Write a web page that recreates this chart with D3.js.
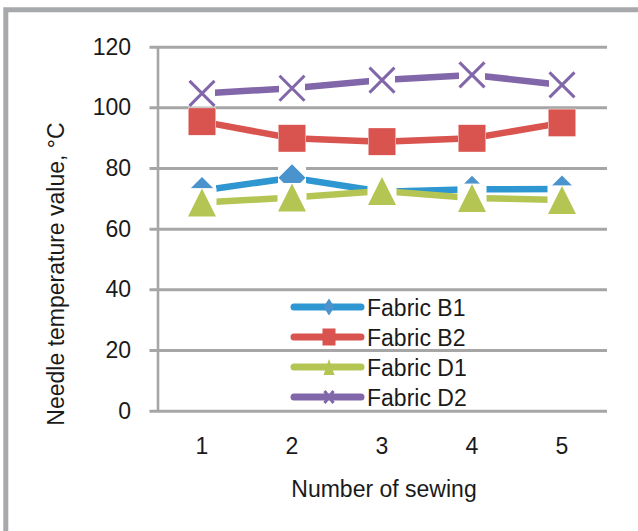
<!DOCTYPE html>
<html>
<head>
<meta charset="utf-8">
<script src="https://cdn.jsdelivr.net/npm/d3@7"></script>
<style>
  html, body { margin: 0; padding: 0; background: #fff; }
  svg { display: block; font-family: "Liberation Sans", Arial, sans-serif; }
</style>
</head>
<body>
<svg id="chart" width="638" height="531"></svg>
<script>
// ---- data ----
const categories = [1, 2, 3, 4, 5];
const yTicks = [0, 20, 40, 60, 80, 100, 120];
const seriesNames = ["Fabric B1", "Fabric B2", "Fabric D1", "Fabric D2"];
const fabricB1 = [72.6, 76.8, 72.2, 73.0, 73.1];
const fabricB2 = [95.3, 89.8, 88.7, 89.8, 94.9];
const fabricD1 = [68.6, 70.3, 72.4, 70.1, 69.5];
const fabricD2 = [104.6, 106.3, 109.0, 110.7, 107.4];
const yTitle = "Needle temperature value, °C";
const xTitle = "Number of sewing";

const series = [
  { name: seriesNames[0], values: fabricB1, color: "#2e96d0", marker: "#4a93cc", shape: "diamond" },
  { name: seriesNames[1], values: fabricB2, color: "#d9534f", marker: "#d9534f", shape: "square" },
  { name: seriesNames[2], values: fabricD1, color: "#b4c553", marker: "#b4c553", shape: "triangle" },
  { name: seriesNames[3], values: fabricD2, color: "#8266aa", marker: "#8266aa", shape: "cross" }
];

const svg = d3.select("#chart");
const grid = "#a6a6a6";

// outer frame
svg.append("path")
  .attr("d", "M5.8,540 L5.8,9.8 L645,9.8")
  .attr("fill", "none").attr("stroke", "#a8a9ac").attr("stroke-width", 5);

const x = d3.scaleBand().domain(categories).range([157, 607]);
const y = d3.scaleLinear().domain([0, 120]).range([410.7, 46.7]);
const cx = d => x(d) + x.bandwidth() / 2;

// gridlines (y-axis ticks) via axis
const yAxis = d3.axisLeft(y).tickValues(yTicks).tickSize(-(607 - 149.5)).tickPadding(18);
const gy = svg.append("g").attr("transform", "translate(149.5,0)").call(yAxis);
gy.select(".domain").remove();
gy.selectAll(".tick line").attr("stroke", grid).attr("stroke-width", 3);
gy.selectAll(".tick text")
  .attr("x", 131 - 149.5).attr("text-anchor", "end")
  .attr("font-size", 23).attr("fill", "#1a1a1a")
  .attr("font-family", "Liberation Sans, Arial, sans-serif");

// vertical axis line
svg.append("line")
  .attr("x1", 158).attr("x2", 158)
  .attr("y1", y(120)).attr("y2", y(0))
  .attr("stroke", grid).attr("stroke-width", 2.6);

// x axis labels
const xAxis = d3.axisBottom(x).tickSize(0).tickPadding(0);
const gx = svg.append("g").attr("transform", "translate(0,454)").call(xAxis);
gx.select(".domain").remove();
gx.selectAll(".tick text")
  .attr("y", 0).attr("dy", 0)
  .attr("font-size", 23).attr("fill", "#1a1a1a")
  .attr("font-family", "Liberation Sans, Arial, sans-serif");

// titles
svg.append("text")
  .attr("transform", "translate(64,274) rotate(-90)")
  .attr("text-anchor", "middle")
  .attr("font-size", 23).attr("fill", "#1a1a1a")
  .text(yTitle);
svg.append("text")
  .attr("x", 384).attr("y", 497)
  .attr("text-anchor", "middle")
  .attr("font-size", 23).attr("fill", "#1a1a1a")
  .text(xTitle);

// marker drawing (big markers sit on a white box, as in the reference)
function drawMarker(g, shape, color, w, h, big) {
  const hw = w / 2, hh = h / 2;
  if (big) {
    g.append("rect").attr("x", -hw - 0.5).attr("y", -hh - 0.5)
      .attr("width", w + 1).attr("height", h + 1).attr("fill", "#fff");
  }
  if (shape === "diamond") {
    g.append("path").attr("d", `M0,${-hh} L${hw},0 L0,${hh} L${-hw},0 Z`).attr("fill", color);
  } else if (shape === "square") {
    g.append("rect").attr("x", -hw).attr("y", -hh).attr("width", w).attr("height", h).attr("fill", color);
  } else if (shape === "triangle") {
    g.append("path").attr("d", `M0,${-hh} L${hw},${hh} L${-hw},${hh} Z`).attr("fill", color);
  } else if (shape === "cross") {
    g.append("path").attr("d", `M${-hw},${-hh} L${hw},${hh} M${hw},${-hh} L${-hw},${hh}`)
      .attr("stroke", color).attr("stroke-width", 3).attr("fill", "none");
  }
}

const markerSize = { diamond: [27, 27], square: [27, 27], triangle: [28, 28], cross: [25, 25] };
const legendMarkerSize = { diamond: [11, 17], square: [13, 17], triangle: [11, 16], cross: [9, 12] };

const line = d3.line().x((d, i) => cx(categories[i])).y(d => y(d));

series.forEach(s => {
  const g = svg.append("g");
  g.append("path").datum(s.values)
    .attr("d", line).attr("fill", "none")
    .attr("stroke", s.color).attr("stroke-width", 6.5);
  s.values.forEach((v, i) => {
    const m = g.append("g").attr("transform", `translate(${cx(categories[i])},${y(v)})`);
    const sz = markerSize[s.shape];
    drawMarker(m, s.shape, s.marker, sz[0], sz[1], true);
  });
});

// legend
const legend = svg.append("g");
series.forEach((s, i) => {
  const ly = 307 + i * 30;
  const lg = legend.append("g").attr("transform", `translate(0,${ly})`);
  lg.append("line").attr("x1", 294).attr("x2", 361).attr("y1", 0).attr("y2", 0)
    .attr("stroke", s.color).attr("stroke-width", 7).attr("stroke-linecap", "round");
  const m = lg.append("g").attr("transform", "translate(329,0)");
  const sz = legendMarkerSize[s.shape];
  drawMarker(m, s.shape, s.marker, sz[0], sz[1], false);
  lg.append("text").attr("x", 367).attr("y", 8.5)
    .attr("font-size", 23).attr("fill", "#1a1a1a").text(s.name);
});
</script>
</body>
</html>
